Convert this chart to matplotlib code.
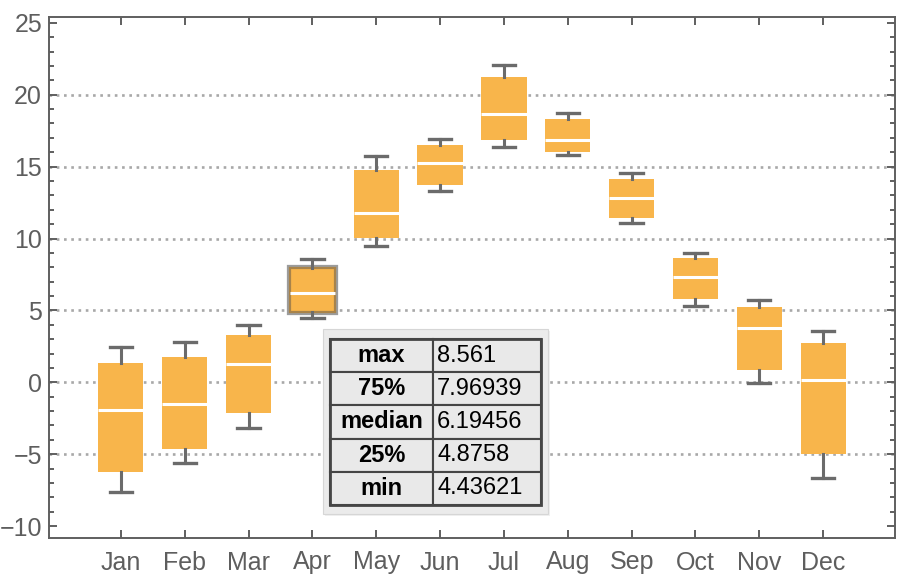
import matplotlib
matplotlib.use('Agg')
import matplotlib.pyplot as plt
import matplotlib.patheffects as pe
from matplotlib.patches import Rectangle
from matplotlib.ticker import MultipleLocator

plt.rcParams['font.family'] = ['Liberation Sans', 'DejaVu Sans']

# monthly box statistics
months = ['Jan', 'Feb', 'Mar', 'Apr', 'May', 'Jun', 'Jul', 'Aug', 'Sep', 'Oct', 'Nov', 'Dec']
mins = [-7.63, -5.61, -3.18, 4.43621, 9.50, 13.32, 16.34, 15.83, 11.06, 5.33, -0.07, -6.66]
q1s = [-6.22, -4.62, -2.11, 4.8758, 10.03, 13.74, 16.85, 16.02, 11.43, 5.81, 0.88, -4.97]
meds = [-1.93, -1.51, 1.25, 6.19456, 11.80, 15.23, 18.66, 16.85, 12.82, 7.32, 3.75, 0.16]
q3s = [1.34, 1.76, 3.29, 7.96939, 14.76, 16.50, 21.23, 18.31, 14.14, 8.64, 5.24, 2.73]
maxs = [2.43, 2.82, 3.96, 8.561, 15.74, 16.94, 22.09, 18.71, 14.58, 9.01, 5.72, 3.57]

# tooltip shown for the highlighted month
tip_month = 'Apr'
tip_labels = ['max', '75%', 'median', '25%', 'min']
tip_values = ['8.561', '7.96939', '6.19456', '4.8758', '4.43621']

grid_levels = [-5, 0, 5, 10, 15, 20]

box_color = '#F8B54B'
whisk_color = '#6b6b6b'
axis_color = '#5f5f5f'

fig = plt.figure(figsize=(9.08, 5.84), dpi=100)
ax = fig.add_axes([49 / 908, 46 / 584, 846 / 908, 521.5 / 584])

for g in grid_levels:
    ax.axhline(g, color='#a8a8a8', lw=1.9, ls=(0, (1, 1.75)), zorder=0)

stats = []
for i, m in enumerate(months):
    stats.append(dict(label=m, whislo=mins[i], q1=q1s[i], med=meds[i],
                      q3=q3s[i], whishi=maxs[i], fliers=[]))

pos = list(range(1, len(months) + 1))
res = ax.bxp(stats, positions=pos, widths=0.71, capwidths=0.35, patch_artist=True,
             boxprops=dict(facecolor=box_color, edgecolor='none', lw=0),
             medianprops=dict(color='white', lw=2.2, solid_capstyle='butt'),
             whiskerprops=dict(color=whisk_color, lw=2.2),
             capprops=dict(color=whisk_color, lw=2.4),
             showfliers=False, zorder=2)

# highlighted (hovered) box
hb = res['boxes'][months.index(tip_month)]
hb.set_edgecolor('#a8834a')
hb.set_linewidth(1.6)
hb.set_path_effects([pe.Stroke(linewidth=4.5, foreground='#9c9c9c'), pe.Normal()])

ax.set_xlim(-0.125, 13.125)
ax.set_ylim(-10.83, 25.44)
ax.set_xticks(pos)
ax.set_xticklabels(months)
ax.yaxis.set_major_locator(MultipleLocator(5))
ax.yaxis.set_minor_locator(MultipleLocator(1))

for s in ax.spines.values():
    s.set_color(axis_color)
    s.set_linewidth(1.4)
ax.tick_params(which='both', direction='in', top=True, right=True, color=axis_color,
               width=1.4, labelcolor='#5e5e5e', labelsize=18)
ax.tick_params(which='major', length=5.5)
ax.tick_params(which='minor', length=3.6)
ax.tick_params(axis='x', pad=9)
ax.tick_params(axis='y', pad=5)

# tooltip box
def px(x, y):
    return ((x - 49) / 846, (538 - y) / 521.5)

x0, y0 = px(323, 514)
x1, y1 = px(548, 329)
shadow = Rectangle((x0 + 0.002, y0 - 0.004), x1 - x0, y1 - y0, transform=ax.transAxes,
                   facecolor='black', alpha=0.06, edgecolor='none', zorder=5, clip_on=False)
ax.add_patch(shadow)
tip_bg = Rectangle((x0, y0), x1 - x0, y1 - y0, transform=ax.transAxes,
                   facecolor='#ebebeb', edgecolor='#d6d6d6', lw=0.8, zorder=6, clip_on=False)
ax.add_patch(tip_bg)

tx0, ty0 = px(330, 505)
tx1, ty1 = px(541, 339)
cells = [[lab, val] for lab, val in zip(tip_labels, tip_values)]
tbl = ax.table(cellText=cells, cellLoc='center', colWidths=[0.487, 0.513],
               bbox=[tx0, ty0, tx1 - tx0, ty1 - ty0], zorder=7)
tbl.auto_set_font_size(False)
for (r, c), cell in tbl.get_celld().items():
    cell.set_facecolor('#e9e9e9')
    cell.set_edgecolor('#454545')
    cell.set_linewidth(1.5)
    cell.set_fontsize(17)
    if c == 0:
        cell.get_text().set_fontweight('bold')
    else:
        cell.get_text().set_ha('left')
        cell.PAD = 0.04
ax.add_patch(Rectangle((tx0, ty0), tx1 - tx0, ty1 - ty0, transform=ax.transAxes,
                       facecolor='none', edgecolor='#454545', lw=2, zorder=8, clip_on=False))

fig.savefig('out.png', dpi=100)
